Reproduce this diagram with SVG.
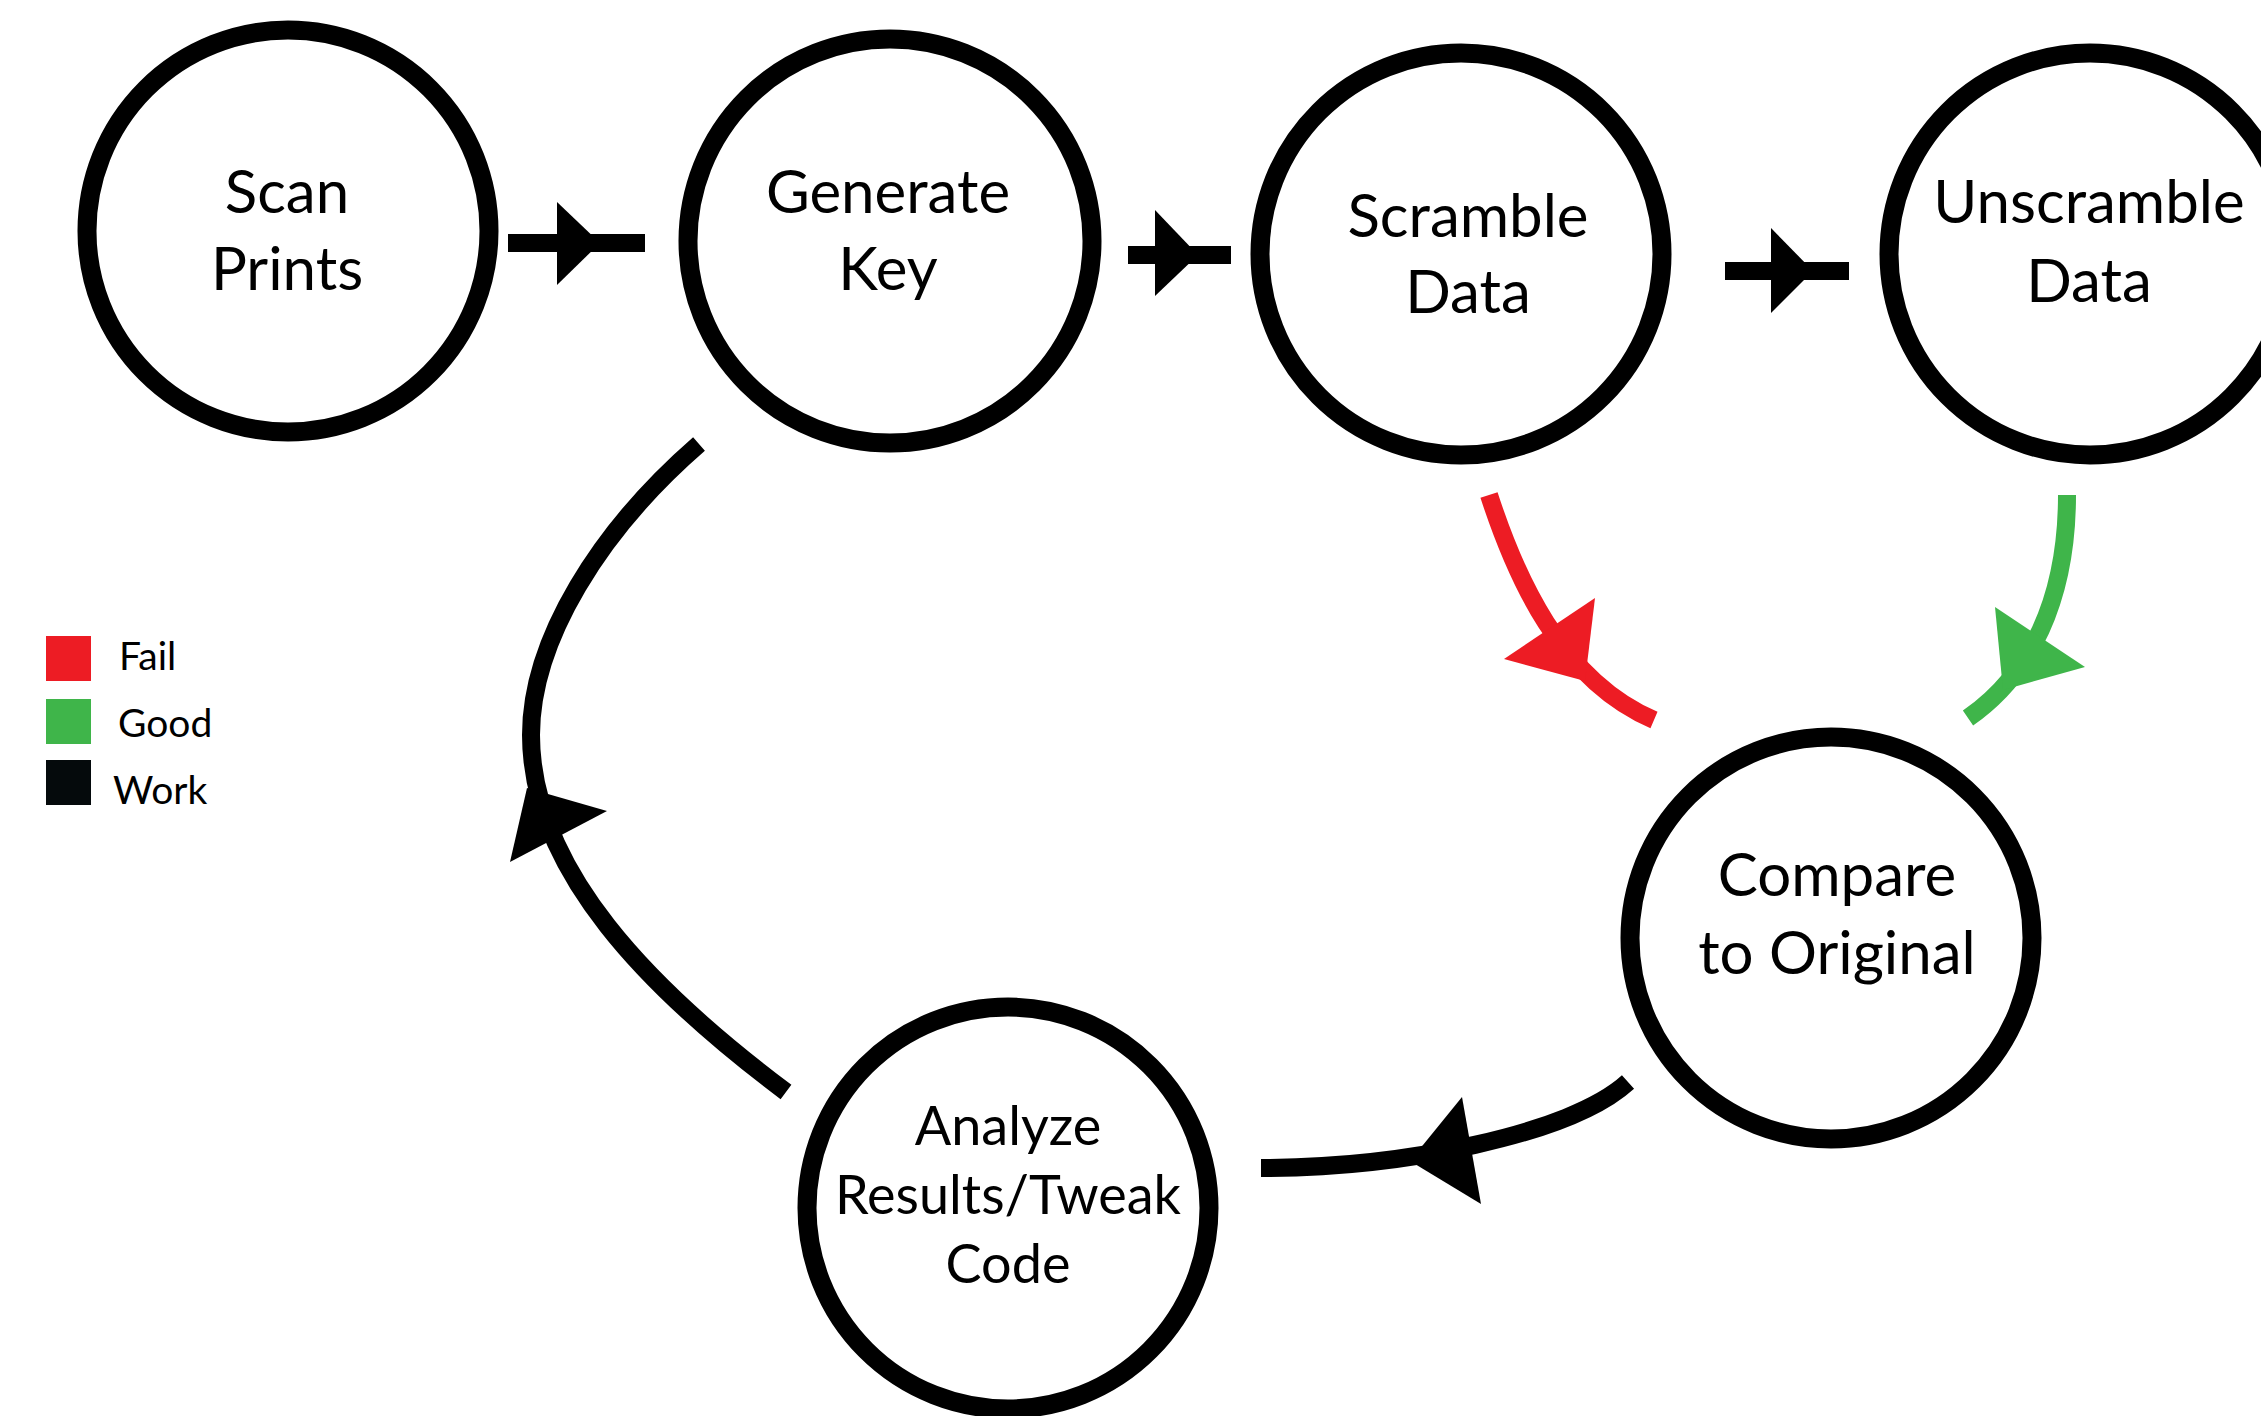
<svg xmlns="http://www.w3.org/2000/svg" width="2261" height="1416" viewBox="0 0 2261 1416">
  <style>
    .ring { fill: #ffffff; stroke: #000000; stroke-width: 19; }
    .label { font-family: Lato, "Open Sans", "Liberation Sans", sans-serif; font-size: 60px; fill: #000000; text-anchor: middle; }
    .label.small { font-size: 54px; }
    .legend-text { font-family: Lato, "Open Sans", "Liberation Sans", sans-serif; font-size: 39px; fill: #000000; }
    .wire { fill: none; stroke-width: 18; stroke-linecap: butt; }
    .work { stroke: #000000; }
    .fail { stroke: #ED1C24; }
    .good { stroke: #3FB54A; }
    .head-work { fill: #000000; }
    .head-fail { fill: #ED1C24; }
    .head-good { fill: #3FB54A; }
  </style>

  <rect x="0" y="0" width="2261" height="1416" fill="#ffffff"/>

  <!-- connectors -->
  <g id="connectors">
    <!-- Scan Prints -> Generate Key -->
    <g id="edge-scan-generate">
      <rect x="508" y="234" width="137" height="18" fill="#000000"/>
      <polygon class="head-work" points="557,202 600,243 557,285"/>
    </g>
    <!-- Generate Key -> Scramble Data -->
    <g id="edge-generate-scramble">
      <rect x="1128" y="246" width="103" height="18" fill="#000000"/>
      <polygon class="head-work" points="1155,210 1198,255 1155,296"/>
    </g>
    <!-- Scramble Data -> Unscramble Data -->
    <g id="edge-scramble-unscramble">
      <rect x="1725" y="262" width="124" height="18" fill="#000000"/>
      <polygon class="head-work" points="1771,228 1813,271 1771,313"/>
    </g>
    <!-- Scramble Data -> Compare (fail) -->
    <g id="edge-scramble-compare">
      <path class="wire fail" d="M1489,495 C1515,575 1560,680 1654,720"/>
      <polygon class="head-fail" points="1595,598 1504,659 1585,681"/>
    </g>
    <!-- Unscramble Data -> Compare (good) -->
    <g id="edge-unscramble-compare">
      <path class="wire good" d="M2067,495 C2067,600 2030,675 1968,718"/>
      <polygon class="head-good" points="1995,607 2085,667 2003,690"/>
    </g>
    <!-- Compare -> Analyze -->
    <g id="edge-compare-analyze">
      <path class="wire work" d="M1628,1082 C1570,1135 1400,1168 1261,1168"/>
      <polygon class="head-work" points="1462,1097 1481,1204 1410,1161"/>
    </g>
    <!-- Analyze -> Generate Key -->
    <g id="edge-analyze-generate">
      <path class="wire work" d="M786,1092 C650,990 531,870 531,735 C531,640 600,530 699,444"/>
      <polygon class="head-work" points="527,788 607,811 510,862"/>
    </g>
  </g>

  <!-- nodes -->
  <g id="node-scan">
    <circle class="ring" cx="288" cy="231" r="201"/>
    <text class="label" x="287" y="213">Scan</text>
    <text class="label" x="287" y="290">Prints</text>
  </g>
  <g id="node-generate">
    <circle class="ring" cx="890" cy="241" r="202"/>
    <text class="label" x="888" y="213">Generate</text>
    <text class="label" x="888" y="290">Key</text>
  </g>
  <g id="node-scramble">
    <circle class="ring" cx="1461" cy="254" r="201"/>
    <text class="label" x="1468" y="237">Scramble</text>
    <text class="label" x="1468" y="313">Data</text>
  </g>
  <g id="node-unscramble">
    <circle class="ring" cx="2090" cy="254" r="201"/>
    <text class="label" x="2089" y="223">Unscramble</text>
    <text class="label" x="2089" y="302">Data</text>
  </g>
  <g id="node-compare">
    <circle class="ring" cx="1831" cy="938" r="201"/>
    <text class="label" x="1837" y="896">Compare</text>
    <text class="label" x="1837" y="974">to Original</text>
  </g>
  <g id="node-analyze">
    <circle class="ring" cx="1008" cy="1208" r="201"/>
    <text class="label small" x="1008" y="1145">Analyze</text>
    <text class="label small" x="1008" y="1214">Results/Tweak</text>
    <text class="label small" x="1008" y="1283">Code</text>
  </g>

  <!-- legend -->
  <g id="legend">
    <rect x="46" y="636" width="45" height="45" fill="#ED1C24"/>
    <text class="legend-text" x="119" y="670">Fail</text>
    <rect x="46" y="699" width="45" height="45" fill="#3FB54A"/>
    <text class="legend-text" x="118" y="737">Good</text>
    <rect x="46" y="760" width="45" height="45" fill="#050A0C"/>
    <text class="legend-text" x="113" y="804">Work</text>
  </g>
</svg>
